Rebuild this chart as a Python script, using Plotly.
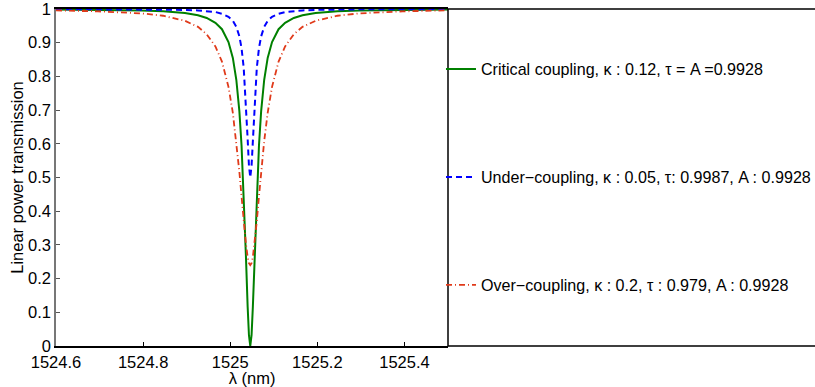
import plotly.graph_objects as go

# Wavelength samples (nm), denser around the resonance at ~1525.046 nm
wavelength = [
    1524.600, 1524.696, 1524.796, 1524.846, 1524.896, 1524.926, 1524.946,
    1524.966, 1524.981, 1524.996, 1525.006, 1525.014, 1525.021, 1525.026,
    1525.031, 1525.036, 1525.040, 1525.043, 1525.046,
    1525.049, 1525.052, 1525.056, 1525.061, 1525.066, 1525.071, 1525.078,
    1525.086, 1525.096, 1525.111, 1525.126, 1525.146, 1525.166, 1525.196,
    1525.246, 1525.296, 1525.396, 1525.500,
]

# Linear power transmission of each coupling regime
critical = [
    0.9986, 0.9978, 0.9957, 0.9932, 0.988, 0.9815, 0.9735, 0.959, 0.940,
    0.902, 0.855, 0.790, 0.697, 0.595, 0.453, 0.269, 0.117, 0.032, 0.0,
    0.032, 0.117, 0.269, 0.453, 0.595, 0.697, 0.790, 0.855, 0.902, 0.940,
    0.959, 0.9735, 0.9815, 0.988, 0.9932, 0.9957, 0.9978, 0.9987,
]
under = [
    0.9997, 0.9995, 0.999, 0.9985, 0.9973, 0.9958, 0.994, 0.991, 0.986,
    0.977, 0.965, 0.947, 0.919, 0.884, 0.825, 0.726, 0.615, 0.535, 0.5,
    0.535, 0.615, 0.726, 0.825, 0.884, 0.919, 0.947, 0.965, 0.977, 0.986,
    0.991, 0.994, 0.9958, 0.9973, 0.9985, 0.999, 0.9995, 0.9997,
]
over = [
    0.996, 0.993, 0.987, 0.980, 0.965, 0.947, 0.925, 0.889, 0.844, 0.769,
    0.692, 0.608, 0.517, 0.444, 0.370, 0.304, 0.264, 0.246, 0.24,
    0.246, 0.264, 0.304, 0.370, 0.444, 0.517, 0.608, 0.692, 0.769, 0.844,
    0.889, 0.925, 0.947, 0.965, 0.980, 0.987, 0.993, 0.996,
]

names = [
    "Critical coupling, \u03ba : 0.12, \u03c4 = A =0.9928",
    "Under\u2212coupling, \u03ba : 0.05, \u03c4: 0.9987, A : 0.9928",
    "Over\u2212coupling, \u03ba : 0.2, \u03c4 : 0.979, A : 0.9928",
]

x_ticks = [1524.6, 1524.8, 1525.0, 1525.2, 1525.4]
x_tick_text = ["1524.6", "1524.8", "1525", "1525.2", "1525.4"]
y_ticks = [0, 0.1, 0.2, 0.3, 0.4, 0.5, 0.6, 0.7, 0.8, 0.9, 1]
y_tick_text = ["0", "0.1", "0.2", "0.3", "0.4", "0.5", "0.6", "0.7", "0.8", "0.9", "1"]

FONT = "Liberation Sans, Arial, sans-serif"

fig = go.Figure()
styles = [
    dict(color="#008000", width=2, dash="solid"),
    dict(color="#0000ff", width=2, dash="6px,4px"),
    dict(color="#e03a1a", width=1.8, dash="6px,3px,1px,3px"),
]
for i, (series, name, style) in enumerate(zip([critical, under, over], names, styles)):
    fig.add_trace(go.Scatter(
        x=wavelength, y=series, mode="lines", name=name,
        legendgroup=f"g{i}", line=style,
    ))

# Box around the legend region, open past the right edge of the page
fig.add_shape(type="rect", xref="paper", yref="paper",
              x0=1, x1=2.2, y0=0, y1=1,
              line=dict(color="black", width=1.5), fillcolor="rgba(0,0,0,0)")

fig.update_layout(
    width=815, height=387,
    margin=dict(l=56, r=367, t=9, b=41, autoexpand=False),
    paper_bgcolor="white", plot_bgcolor="white",
    font=dict(family=FONT, size=16.5, color="black"),
    showlegend=True,
    legend=dict(
        x=0.9821, xanchor="left", y=0.872, yanchor="top",
        font=dict(family=FONT, size=16.1, color="black"),
        tracegroupgap=84, bgcolor="rgba(0,0,0,0)", borderwidth=0,
    ),
    xaxis=dict(
        range=[1524.6, 1525.5], tickvals=x_ticks, ticktext=x_tick_text,
        ticks="inside", ticklen=4, tickcolor="black",
        showline=True, linecolor="black", linewidth=1.5, mirror=True,
        showgrid=False, zeroline=False, ticklabeloverflow="allow",
        title=dict(text="\u03bb (nm)", standoff=0,
                   font=dict(family=FONT, size=16.5)),
    ),
    yaxis=dict(
        range=[0, 1], tickvals=y_ticks, ticktext=y_tick_text,
        ticks="inside", ticklen=4, tickcolor="#555555",
        showline=True, linecolor="#777777", linewidth=1.5,
        showgrid=False, zeroline=False, ticklabeloverflow="allow",
        title=dict(text="Linear power transmission", standoff=0,
                   font=dict(family=FONT, size=16.5)),
    ),
)

fig.write_html("out.html")
